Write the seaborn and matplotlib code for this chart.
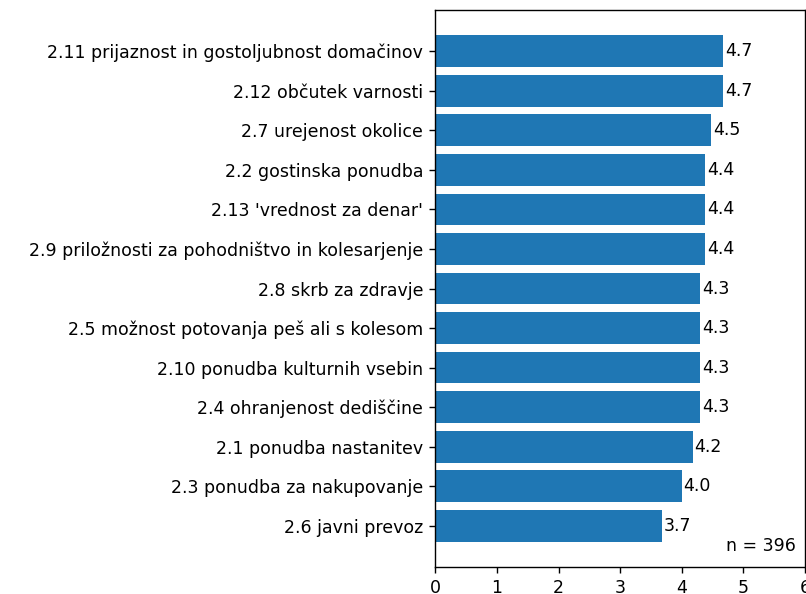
import matplotlib
matplotlib.use("Agg")
import matplotlib.pyplot as plt
import seaborn as sns
import pandas as pd

categories = [
    "2.11 prijaznost in gostoljubnost domačinov",
    "2.12 občutek varnosti",
    "2.7 urejenost okolice",
    "2.2 gostinska ponudba",
    "2.13 'vrednost za denar'",
    "2.9 priložnosti za pohodništvo in kolesarjenje",
    "2.8 skrb za zdravje",
    "2.5 možnost potovanja peš ali s kolesom",
    "2.10 ponudba kulturnih vsebin",
    "2.4 ohranjenost dediščine",
    "2.1 ponudba nastanitev",
    "2.3 ponudba za nakupovanje",
    "2.6 javni prevoz",
]
values = [4.67, 4.67, 4.48, 4.38, 4.38, 4.38, 4.30, 4.30, 4.30, 4.30, 4.18, 4.00, 3.68]
x_ticks = [0, 1, 2, 3, 4, 5, 6]
n_label = "n = 396"

df = pd.DataFrame({"kategorija": categories, "ocena": values})

DPI = 125
FS = 10
fig = plt.figure(figsize=(806 / DPI, 594 / DPI), dpi=DPI)
ax = fig.add_axes([435.5 / 806, 1 - 567 / 594, (805 - 435.5) / 806, (567 - 10) / 594])

sns.barplot(data=df, x="ocena", y="kategorija", orient="h", color="#1f77b4",
            saturation=1, width=0.8, ax=ax, errorbar=None)

n = len(categories)
ax.set_ylim(n - 1 + 0.4 + 0.64, -0.4 - 0.64)
ax.set_xlim(0, 6)
ax.set_xticks(x_ticks)
ax.set_xlabel("")
ax.set_ylabel("")
for c in ax.containers:
    ax.bar_label(c, fmt="%.1f", padding=1.0, fontsize=FS)

ax.text(0.975, 0.022, n_label, transform=ax.transAxes, ha="right", va="bottom", fontsize=FS)
ax.tick_params(labelsize=FS)

fig.savefig("out.png", dpi=DPI)
